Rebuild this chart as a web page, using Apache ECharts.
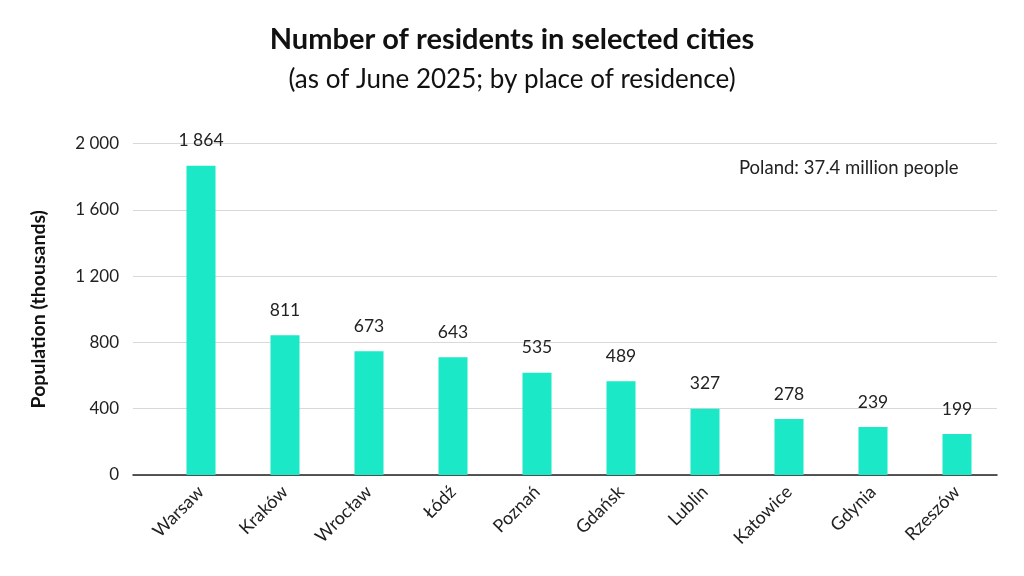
<!DOCTYPE html>
<html>
<head>
<meta charset="utf-8">
<script src="https://cdn.jsdelivr.net/npm/echarts@6/dist/echarts.min.js"></script>
<style>
  html, body { margin: 0; padding: 0; background: #fff; }
  #chart { width: 1024px; height: 576px; }
</style>
</head>
<body>
<div id="chart"></div>
<script>
// cities on the x axis
const cities = ['Warsaw', 'Kraków', 'Wrocław', 'Łódź', 'Poznań', 'Gdańsk', 'Lublin', 'Katowice', 'Gdynia', 'Rzeszów']
// bar heights as drawn in the picture (thousands)
const barHeights = [1866, 843, 746, 710, 617, 565, 400, 338, 290, 247]
// numbers printed above the bars
const printedValues = [1864, 811, 673, 643, 535, 489, 327, 278, 239, 199]
// y axis ticks
const yTicks = [0, 400, 800, 1200, 1600, 2000]

const font = 'Lato'
const fmt = function (v) {
  return String(v).replace(/\B(?=(\d{3})+(?!\d))/g, ' ')
}

const chart = echarts.init(document.getElementById('chart'))
const option = {
  backgroundColor: '#fff',
  animation: false,
  title: [
    {
      text: 'Number of residents in selected cities',
      left: 'center',
      top: 20,
      textStyle: { fontFamily: font, fontSize: 29, fontWeight: 'bold', color: '#111' }
    },
    {
      text: '(as of June 2025; by place of residence)',
      left: 'center',
      top: 62,
      textStyle: { fontFamily: font, fontSize: 26, fontWeight: 'normal', color: '#111' }
    },
    {
      text: 'Poland: 37.4 million people',
      left: 734,
      top: 154,
      textStyle: { fontFamily: font, fontSize: 18.5, fontWeight: 'normal', color: '#222' }
    }
  ],
  grid: [
    // grid for the gridlines, y labels and base line
    { left: 133, right: 27, top: 143.5, bottom: 101 },
    // grid for the bars
    { left: 159, right: 25, top: 143.5, bottom: 101 }
  ],
  xAxis: [
    {
      gridIndex: 0, type: 'value', min: 0, max: 1,
      axisLine: { show: true, onZero: false, lineStyle: { color: '#222', width: 1.5 } },
      axisTick: { show: false }, axisLabel: { show: false }, splitLine: { show: false }
    },
    {
      gridIndex: 1, type: 'category', data: cities,
      axisLine: { show: false }, axisTick: { show: false },
      axisLabel: {
        rotate: 45, margin: 14, interval: 0,
        fontFamily: font, fontSize: 18, color: '#222'
      }
    }
  ],
  yAxis: [
    {
      gridIndex: 0, type: 'value', min: yTicks[0], max: yTicks[yTicks.length - 1], interval: 400,
      name: 'Population (thousands)', nameLocation: 'middle', nameGap: 84,
      nameTextStyle: { fontFamily: font, fontSize: 19.5, fontWeight: 'bold', color: '#111' },
      axisLine: { show: false }, axisTick: { show: false },
      axisLabel: { fontFamily: font, fontSize: 17, color: '#222', margin: 14, formatter: fmt },
      splitLine: { lineStyle: { color: '#d9d9d9', width: 1.2 } }
    },
    {
      gridIndex: 1, type: 'value', min: yTicks[0], max: yTicks[yTicks.length - 1],
      show: false, splitLine: { show: false }
    }
  ],
  series: [
    {
      type: 'bar',
      xAxisIndex: 1, yAxisIndex: 1,
      data: barHeights,
      barWidth: 29,
      itemStyle: { color: '#1AE8C6' },
      label: {
        show: true, position: 'top', distance: 16,
        fontFamily: font, fontSize: 17.5, color: '#222',
        formatter: function (p) { return fmt(printedValues[p.dataIndex]) }
      }
    }
  ]
}
chart.setOption(option)
</script>
</body>
</html>
